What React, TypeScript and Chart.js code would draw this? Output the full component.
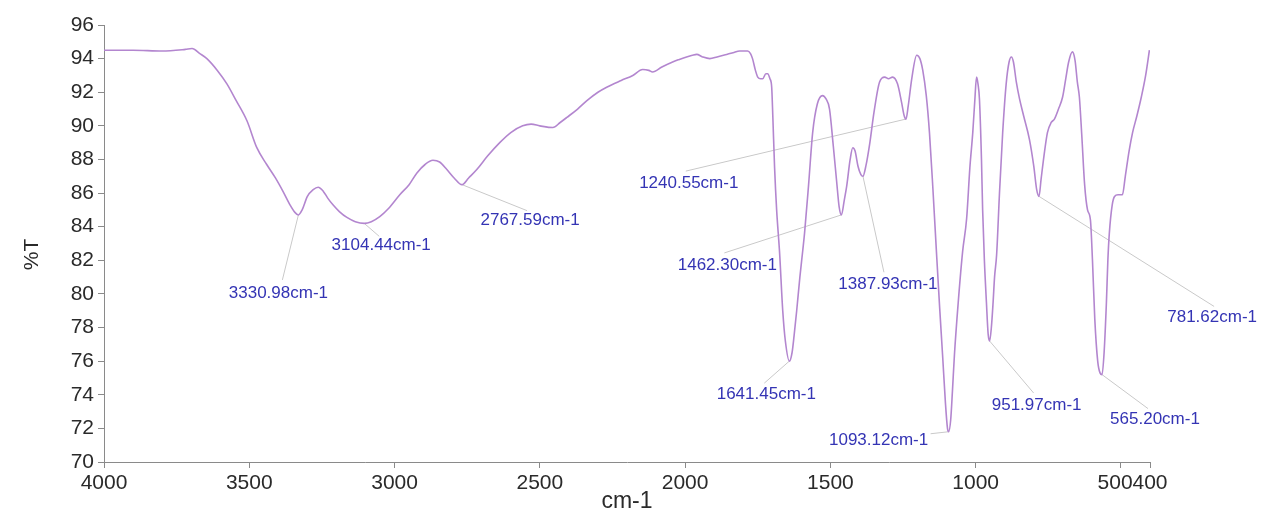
import React, { useEffect, useRef } from "react";
import { Chart, registerables } from "chart.js";

Chart.register(...registerables);

// ---- data ----
const wavenumbers = [
  4000, 3900, 3800, 3720, 3697, 3670, 3646, 3610, 3577, 3545, 3508, 3474, 3440, 3410, 3384, 3360, 3343, 3331,
  3318, 3300, 3280, 3263, 3245, 3230, 3212, 3190, 3164, 3135, 3104, 3080, 3051, 3020, 2982, 2950, 2923, 2895,
  2868, 2845, 2820, 2795, 2768, 2745, 2717, 2680, 2638, 2600, 2559, 2530, 2500, 2455, 2430, 2407, 2370, 2338,
  2300, 2270, 2220, 2180, 2146, 2125, 2112, 2080, 2043, 2020, 1995, 1975, 1960, 1940, 1915, 1890, 1857, 1835,
  1812, 1785, 1775, 1768, 1758, 1750, 1740, 1733, 1722, 1716, 1708, 1702, 1698, 1692, 1685, 1675, 1664, 1655,
  1641, 1632, 1625, 1616, 1605, 1595, 1589, 1575, 1561, 1545, 1527, 1515, 1503, 1490, 1478, 1470, 1462, 1452,
  1444, 1432, 1423, 1415, 1405, 1395, 1388, 1378, 1365, 1350, 1331, 1313, 1300, 1286, 1269, 1255, 1246, 1240,
  1232, 1220, 1203, 1192, 1182, 1170, 1159, 1147, 1135, 1124, 1114, 1104, 1097, 1093, 1086, 1080, 1073, 1060,
  1045, 1031, 1020, 1010, 1003, 997, 992, 987, 980, 976, 970, 963, 957, 952, 946, 940, 935, 928, 918, 907, 895,
  885, 877, 870, 860, 849, 835, 815, 800, 790, 782, 775, 765, 753, 740, 729, 715, 701, 690, 680, 667, 658, 650,
  643, 635, 625, 615, 605, 598, 590, 580, 572, 565, 558, 550, 545, 540, 530, 522, 510, 495, 485, 472, 460, 445,
  430, 415, 402,
];

const transmittance = [
  94.5, 94.5, 94.45, 94.55, 94.6, 94.3, 94.0, 93.3, 92.5, 91.5, 90.3, 88.7, 87.7, 86.9, 86.1, 85.3, 84.85, 84.7,
  85.0, 85.8, 86.2, 86.35, 86.1, 85.7, 85.3, 84.9, 84.55, 84.3, 84.2, 84.3, 84.6, 85.1, 85.9, 86.5, 87.2, 87.7,
  87.95, 87.85, 87.4, 86.9, 86.5, 86.9, 87.4, 88.2, 89.0, 89.6, 90.0, 90.1, 90.0, 89.9, 90.2, 90.5, 91.0, 91.5,
  92.0, 92.3, 92.7, 93.0, 93.35, 93.3, 93.2, 93.5, 93.8, 93.95, 94.1, 94.2, 94.25, 94.1, 94.0, 94.1, 94.25, 94.35,
  94.45, 94.45, 94.3, 94.0, 93.3, 92.9, 92.8, 92.8, 93.1, 93.1, 92.8, 92.3, 90.5, 87.5, 85.0, 82.5, 79.0, 77.2,
  76.0, 76.5, 77.5, 79.0, 81.0, 82.6, 83.6, 86.5, 89.6, 91.3, 91.8, 91.6, 91.0, 88.8, 86.6, 85.2, 84.7, 85.6,
  86.4, 88.0, 88.7, 88.5, 87.6, 87.1, 87.0, 87.6, 88.9, 90.8, 92.6, 92.9, 92.8, 92.9, 92.5, 91.4, 90.6, 90.4,
  91.2, 92.8, 94.2, 94.0, 93.3, 91.8, 89.6, 86.2, 82.5, 79.2, 76.4, 73.5, 72.0, 71.8, 72.5, 74.2, 76.4, 79.5,
  82.5, 84.5, 87.5, 89.6, 91.5, 92.9, 92.5, 91.6, 88.0, 85.0, 82.0, 79.5, 77.6, 77.2, 78.0, 79.5, 81.0, 82.3, 86.0, 89.6, 92.5,
  93.8, 94.1, 93.8, 92.6, 91.6, 90.6, 89.2, 87.6, 86.2, 85.8, 86.8, 88.2, 89.6, 90.2, 90.4, 91.0, 91.7, 92.8, 93.8, 94.4, 93.9, 92.6,
  91.7, 89.5, 86.5, 85.0, 84.4, 82.0, 78.5, 76.0, 75.3, 75.2, 76.5, 79.5, 82.0, 83.6, 85.3, 85.8, 85.9, 85.9, 87.0, 88.5, 89.6, 90.6,
  91.7, 93.0, 94.5,
];

const xTickValues = [4000, 3500, 3000, 2500, 2000, 1500, 1000, 500, 400];
const xTickLabels = ["4000", "3500", "3000", "2500", "2000", "1500", "1000", "500  ", "400"];
const yTickValues = [70, 72, 74, 76, 78, 80, 82, 84, 86, 88, 90, 92, 94, 96];

const peakWavenumbers = [3330.98, 3104.44, 2767.59, 1641.45, 1462.3, 1387.93, 1240.55, 1093.12, 951.97, 781.62, 565.2];
const peakTransmittance = [84.7, 84.2, 86.5, 76.0, 84.7, 87.0, 90.4, 71.8, 77.2, 85.8, 75.2];

const xTitle = "cm-1";
const yTitle = "%T";

// ---- layout of peak annotations (pixel offsets from each peak) ----
const labelLayout = [
  { dx: -20, dy: 78, ex: -16, ey: 65 },
  { dx: 17, dy: 22, ex: 15, ey: 13 },
  { dx: 68, dy: 36, ex: 65, ey: 26 },
  { dx: -23, dy: 33, ex: -25, ey: 22 },
  { dx: -114, dy: 50, ex: -117, ey: 38 },
  { dx: 25, dy: 108, ex: 21, ey: 96 },
  { dx: -217, dy: 64, ex: -220, ey: 52 },
  { dx: -70, dy: 9, ex: -18, ey: 2 },
  { dx: 47, dy: 64, ex: 44, ey: 52 },
  { dx: 173, dy: 121, ex: 175, ey: 110 },
  { dx: 53, dy: 45, ex: 46, ey: 34 },
];

const FONT = '"Liberation Sans", Arial, Helvetica, sans-serif';

export default function App() {
  const ref = useRef<HTMLCanvasElement>(null);

  useEffect(() => {
    const canvas = ref.current;
    if (!canvas) return;

    const peakPlugin = {
      id: "peakLabels",
      beforeDatasetsDraw(chart: any) {
        const { ctx, scales } = chart;
        const x = scales.x;
        const y = scales.y;
        ctx.save();
        ctx.strokeStyle = "#c9c9c9";
        ctx.lineWidth = 1;
        peakWavenumbers.forEach((wn, i) => {
          const px = x.getPixelForValue(wn);
          const py = y.getPixelForValue(peakTransmittance[i]);
          const L = labelLayout[i];
          ctx.beginPath();
          ctx.moveTo(px, py);
          ctx.lineTo(px + L.ex, py + L.ey);
          ctx.stroke();
        });
        ctx.restore();
      },
      afterDatasetsDraw(chart: any) {
        const { ctx, scales } = chart;
        const x = scales.x;
        const y = scales.y;
        ctx.save();
        ctx.fillStyle = "#3434b4";
        ctx.font = `17px ${FONT}`;
        ctx.textAlign = "center";
        ctx.textBaseline = "middle";
        peakWavenumbers.forEach((wn, i) => {
          const px = x.getPixelForValue(wn);
          const py = y.getPixelForValue(peakTransmittance[i]);
          const L = labelLayout[i];
          ctx.fillText(`${wn.toFixed(2)}cm-1`, px + L.dx, py + L.dy);
        });
        // y axis title
        ctx.translate(32, (y.top + y.bottom) / 2 + 11);
        ctx.rotate(-Math.PI / 2);
        ctx.fillStyle = "#2a2a2a";
        ctx.font = `21px ${FONT}`;
        ctx.fillText(yTitle, 0, 0);
        ctx.restore();
      },
    };

    const chart = new Chart(canvas, {
      type: "line",
      data: {
        datasets: [
          {
            data: wavenumbers.map((w, i) => ({ x: w, y: transmittance[i] })),
            borderColor: "#b386cf",
            borderWidth: 1.6,
            pointRadius: 0,
            fill: false,
            cubicInterpolationMode: "monotone",
          },
        ],
      },
      options: {
        animation: false,
        responsive: false,
        layout: { padding: { left: 0, top: 25, right: 111, bottom: 0 } },
        plugins: { legend: { display: false }, tooltip: { enabled: false } },
        scales: {
          x: {
            type: "linear",
            reverse: true,
            min: 400,
            max: 4000,
            afterBuildTicks: (axis: any) => {
              axis.ticks = xTickValues.map((v) => ({ value: v }));
            },
            afterFit: (s: any) => {
              s.height = 56;
            },
            ticks: {
              autoSkip: false,
              maxRotation: 0,
              minRotation: 0,
              padding: 3,
              color: "#2a2a2a",
              font: { family: FONT, size: 21 },
              callback: (v: any) => {
                const idx = xTickValues.indexOf(Number(v));
                return idx >= 0 ? xTickLabels[idx] : String(v);
              },
            },
            grid: { display: true, drawOnChartArea: false, drawTicks: true, tickLength: 6, color: "#8a8a8a" },
            border: { display: true, color: "#8a8a8a", width: 1 },
            title: {
              display: true,
              text: xTitle,
              color: "#2a2a2a",
              font: { family: FONT, size: 23 },
              padding: { top: 0, bottom: 3 },
            },
          },
          y: {
            type: "linear",
            min: 70,
            max: 96,
            afterBuildTicks: (axis: any) => {
              axis.ticks = yTickValues.map((v) => ({ value: v }));
            },
            afterFit: (s: any) => {
              s.width = 104;
            },
            ticks: {
              autoSkip: false,
              padding: 4,
              color: "#2a2a2a",
              font: { family: FONT, size: 21 },
              callback: (v: any) => String(v),
            },
            grid: { display: true, drawOnChartArea: false, drawTicks: true, tickLength: 6, color: "#8a8a8a" },
            border: { display: true, color: "#8a8a8a", width: 1 },
          },
        },
      },
      plugins: [peakPlugin],
    } as any);

    return () => chart.destroy();
  }, []);

  return (
    <div style={{ position: "fixed", left: 0, top: 0, width: 1261, height: 518, background: "#fff" }}>
      <canvas ref={ref} width={1261} height={518} style={{ display: "block" }} />
    </div>
  );
}
